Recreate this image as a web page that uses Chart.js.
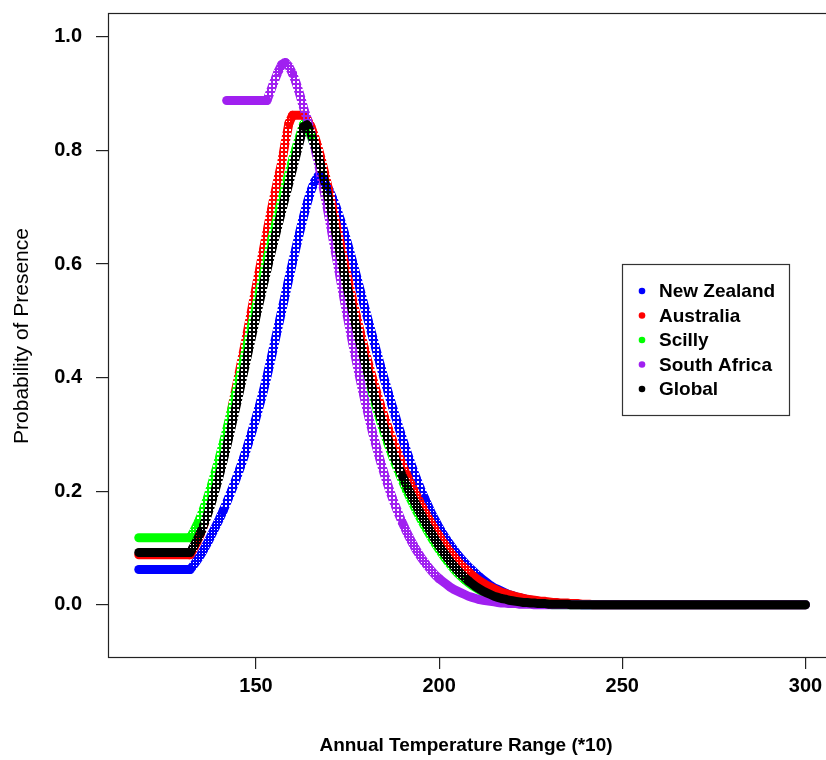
<!DOCTYPE html>
<html>
<head>
<meta charset="utf-8">
<title>Probability of Presence</title>
<script src="https://cdn.jsdelivr.net/npm/chart.js@4.4.1/dist/chart.umd.min.js"></script>
<style>
  html, body { margin: 0; padding: 0; background: #fff; overflow: hidden; }
  #wrap { position: relative; width: 840px; height: 760px; }
</style>
</head>
<body>
<div id="wrap"><canvas id="presenceChart" width="840" height="760"></canvas></div>
<script>
// annual temperature range (*10), one model step per unit
const temps = [
  118, 119, 120, 121, 122, 123, 124, 125, 126, 127,
  128, 129, 130, 131, 132, 133, 134, 135, 136, 137,
  138, 139, 140, 141, 142, 143, 144, 145, 146, 147,
  148, 149, 150, 151, 152, 153, 154, 155, 156, 157,
  158, 159, 160, 161, 162, 163, 164, 165, 166, 167,
  168, 169, 170, 171, 172, 173, 174, 175, 176, 177,
  178, 179, 180, 181, 182, 183, 184, 185, 186, 187,
  188, 189, 190, 191, 192, 193, 194, 195, 196, 197,
  198, 199, 200, 201, 202, 203, 204, 205, 206, 207,
  208, 209, 210, 211, 212, 213, 214, 215, 216, 217,
  218, 219, 220, 221, 222, 223, 224, 225, 226, 227,
  228, 229, 230, 231, 232, 233, 234, 235, 236, 237,
  238, 239, 240, 241, 242, 243, 244, 245, 246, 247,
  248, 249, 250, 251, 252, 253, 254, 255, 256, 257,
  258, 259, 260, 261, 262, 263, 264, 265, 266, 267,
  268, 269, 270, 271, 272, 273, 274, 275, 276, 277,
  278, 279, 280, 281, 282, 283, 284, 285, 286, 287,
  288, 289, 290, 291, 292, 293, 294, 295, 296, 297,
  298, 299, 300
];

const newZealand = [
  0.062, 0.062, 0.062, 0.062, 0.062, 0.062, 0.062, 0.062, 0.062, 0.062,
  0.062, 0.062, 0.062, 0.062, 0.062, 0.070, 0.079, 0.089, 0.100, 0.112,
  0.125, 0.138, 0.151, 0.165, 0.180, 0.196, 0.212, 0.229, 0.247, 0.266,
  0.286, 0.307, 0.329, 0.352, 0.376, 0.402, 0.430, 0.459, 0.488, 0.517,
  0.546, 0.575, 0.603, 0.631, 0.658, 0.684, 0.708, 0.729, 0.745, 0.755,
  0.752, 0.741, 0.730, 0.715, 0.698, 0.679, 0.658, 0.636, 0.613, 0.589,
  0.565, 0.540, 0.516, 0.492, 0.468, 0.444, 0.421, 0.398, 0.376, 0.354,
  0.333, 0.312, 0.292, 0.273, 0.254, 0.236, 0.219, 0.203, 0.188, 0.174,
  0.160, 0.148, 0.136, 0.125, 0.115, 0.106, 0.097, 0.089, 0.081, 0.074,
  0.067, 0.061, 0.055, 0.049, 0.044, 0.039, 0.034, 0.030, 0.027, 0.024,
  0.021, 0.018, 0.016, 0.014, 0.012, 0.011, 0.009, 0.008, 0.007, 0.006,
  0.005, 0.004, 0.004, 0.003, 0.003, 0.002, 0.002, 0.002, 0.001, 0.001,
  0.001, 0, 0, 0, 0, 0, 0, 0, 0, 0,
  0, 0, 0, 0, 0, 0, 0, 0, 0, 0,
  0, 0, 0, 0, 0, 0, 0, 0, 0, 0,
  0, 0, 0, 0, 0, 0, 0, 0, 0, 0,
  0, 0, 0, 0, 0, 0, 0, 0, 0, 0,
  0, 0, 0, 0, 0, 0, 0, 0, 0, 0,
  0, 0, 0
];

const australia = [
  0.088, 0.088, 0.088, 0.088, 0.088, 0.088, 0.088, 0.088, 0.088, 0.088,
  0.088, 0.088, 0.088, 0.088, 0.088, 0.099, 0.112, 0.127, 0.145, 0.166,
  0.190, 0.216, 0.244, 0.273, 0.303, 0.333, 0.364, 0.395, 0.427, 0.459,
  0.492, 0.525, 0.558, 0.591, 0.624, 0.657, 0.689, 0.720, 0.750, 0.778,
  0.815, 0.848, 0.862, 0.862, 0.862, 0.862, 0.855, 0.842, 0.825, 0.804,
  0.780, 0.754, 0.726, 0.697, 0.667, 0.637, 0.607, 0.577, 0.548, 0.520,
  0.493, 0.467, 0.442, 0.418, 0.395, 0.373, 0.352, 0.332, 0.313, 0.295,
  0.278, 0.262, 0.246, 0.231, 0.217, 0.203, 0.190, 0.177, 0.165, 0.153,
  0.142, 0.131, 0.121, 0.111, 0.102, 0.093, 0.085, 0.077, 0.070, 0.064,
  0.058, 0.052, 0.047, 0.042, 0.038, 0.034, 0.031, 0.028, 0.025, 0.022,
  0.020, 0.018, 0.016, 0.014, 0.013, 0.011, 0.010, 0.009, 0.008, 0.007,
  0.006, 0.006, 0.005, 0.004, 0.004, 0.003, 0.003, 0.003, 0.002, 0.002,
  0.002, 0.001, 0.001, 0.001, 0, 0, 0, 0, 0, 0,
  0, 0, 0, 0, 0, 0, 0, 0, 0, 0,
  0, 0, 0, 0, 0, 0, 0, 0, 0, 0,
  0, 0, 0, 0, 0, 0, 0, 0, 0, 0,
  0, 0, 0, 0, 0, 0, 0, 0, 0, 0,
  0, 0, 0, 0, 0, 0, 0, 0, 0, 0,
  0, 0, 0
];

const scilly = [
  0.118, 0.118, 0.118, 0.118, 0.118, 0.118, 0.118, 0.118, 0.118, 0.118,
  0.118, 0.118, 0.118, 0.118, 0.118, 0.129, 0.142, 0.157, 0.174, 0.193,
  0.214, 0.236, 0.259, 0.283, 0.308, 0.334, 0.360, 0.387, 0.414, 0.442,
  0.470, 0.498, 0.526, 0.554, 0.582, 0.609, 0.636, 0.662, 0.688, 0.713,
  0.737, 0.761, 0.784, 0.806, 0.827, 0.846, 0.840, 0.826, 0.808, 0.786,
  0.761, 0.733, 0.703, 0.672, 0.641, 0.609, 0.578, 0.548, 0.519, 0.491,
  0.464, 0.438, 0.413, 0.389, 0.366, 0.344, 0.323, 0.303, 0.284, 0.266,
  0.249, 0.233, 0.218, 0.203, 0.189, 0.176, 0.163, 0.151, 0.139, 0.128,
  0.117, 0.107, 0.097, 0.088, 0.079, 0.071, 0.063, 0.056, 0.050, 0.044,
  0.039, 0.034, 0.030, 0.026, 0.022, 0.019, 0.016, 0.014, 0.012, 0.010,
  0.008, 0.007, 0.006, 0.005, 0.004, 0.003, 0.003, 0.002, 0.002, 0.002,
  0.001, 0.001, 0.001, 0, 0, 0, 0, 0, 0, 0,
  0, 0, 0, 0, 0, 0, 0, 0, 0, 0,
  0, 0, 0, 0, 0, 0, 0, 0, 0, 0,
  0, 0, 0, 0, 0, 0, 0, 0, 0, 0,
  0, 0, 0, 0, 0, 0, 0, 0, 0, 0,
  0, 0, 0, 0, 0, 0, 0, 0, 0, 0,
  0, 0, 0, 0, 0, 0, 0, 0, 0, 0,
  0, 0, 0
];

// South Africa model only starts at 142
const southAfrica = [
  null, null, null, null, null, null, null, null, null, null,
  null, null, null, null, null, null, null, null, null, null,
  null, null, null, null, 0.888, 0.888, 0.888, 0.888, 0.888, 0.888,
  0.888, 0.888, 0.888, 0.888, 0.888, 0.888, 0.905, 0.922, 0.938, 0.951,
  0.955, 0.948, 0.935, 0.918, 0.898, 0.875, 0.855, 0.832, 0.806, 0.778,
  0.747, 0.714, 0.680, 0.645, 0.610, 0.575, 0.540, 0.506, 0.473, 0.441,
  0.410, 0.380, 0.352, 0.325, 0.299, 0.275, 0.252, 0.231, 0.211, 0.192,
  0.175, 0.159, 0.144, 0.130, 0.117, 0.105, 0.094, 0.084, 0.075, 0.067,
  0.059, 0.052, 0.046, 0.041, 0.036, 0.031, 0.027, 0.024, 0.021, 0.018,
  0.015, 0.013, 0.011, 0.009, 0.008, 0.007, 0.006, 0.005, 0.004, 0.003,
  0.003, 0.002, 0.002, 0.002, 0.001, 0.001, 0.001, 0.001, 0, 0,
  0, 0, 0, 0, 0, 0, 0, 0, 0, 0,
  0, 0, 0, 0, 0, 0, 0, 0, 0, 0,
  0, 0, 0, 0, 0, 0, 0, 0, 0, 0,
  0, 0, 0, 0, 0, 0, 0, 0, 0, 0,
  0, 0, 0, 0, 0, 0, 0, 0, 0, 0,
  0, 0, 0, 0, 0, 0, 0, 0, 0, 0,
  0, 0, 0, 0, 0, 0, 0, 0, 0, 0,
  0, 0, 0
];

const globalModel = [
  0.092, 0.092, 0.092, 0.092, 0.092, 0.092, 0.092, 0.092, 0.092, 0.092,
  0.092, 0.092, 0.092, 0.092, 0.092, 0.103, 0.115, 0.129, 0.145, 0.163,
  0.183, 0.205, 0.228, 0.253, 0.279, 0.306, 0.334, 0.362, 0.391, 0.420,
  0.449, 0.478, 0.507, 0.535, 0.563, 0.590, 0.617, 0.643, 0.668, 0.693,
  0.718, 0.743, 0.768, 0.793, 0.818, 0.842, 0.845, 0.830, 0.812, 0.790,
  0.765, 0.738, 0.709, 0.679, 0.648, 0.617, 0.586, 0.556, 0.527, 0.499,
  0.472, 0.446, 0.421, 0.397, 0.374, 0.352, 0.331, 0.311, 0.292, 0.274,
  0.257, 0.241, 0.226, 0.212, 0.198, 0.185, 0.172, 0.160, 0.148, 0.136,
  0.125, 0.114, 0.104, 0.094, 0.085, 0.076, 0.068, 0.061, 0.054, 0.048,
  0.042, 0.037, 0.032, 0.028, 0.024, 0.021, 0.018, 0.015, 0.013, 0.011,
  0.010, 0.008, 0.007, 0.006, 0.005, 0.004, 0.004, 0.003, 0.003, 0.002,
  0.002, 0.002, 0.001, 0.001, 0.001, 0.001, 0.001, 0.001, 0, 0,
  0, 0, 0, 0, 0, 0, 0, 0, 0, 0,
  0, 0, 0, 0, 0, 0, 0, 0, 0, 0,
  0, 0, 0, 0, 0, 0, 0, 0, 0, 0,
  0, 0, 0, 0, 0, 0, 0, 0, 0, 0,
  0, 0, 0, 0, 0, 0, 0, 0, 0, 0,
  0, 0, 0, 0, 0, 0, 0, 0, 0, 0,
  0, 0, 0
];

const seriesNames = ["New Zealand", "Australia", "Scilly", "South Africa", "Global"];
const seriesColors = [[0, 0, 255], [255, 0, 0], [0, 255, 0], [160, 32, 240], [0, 0, 0]];
const xTicks = [150, 200, 250, 300];
const yTicks = [0, 0.2, 0.4, 0.6, 0.8, 1.0];

const FONT = "'Liberation Sans', Arial, sans-serif";

function toPoints(values) {
    return temps
        .map((t, i) => ({ x: t, y: values[i] }))
        .filter(p => p.y !== null);
}

function rgba(c, a) {
    return `rgba(${c[0]},${c[1]},${c[2]},${a})`;
}

// small tile with see-through holes, so steep runs of open circles read as a mesh
function meshPattern(c, size, hole) {
    const tile = document.createElement("canvas");
    tile.width = size;
    tile.height = size;
    const g = tile.getContext("2d");
    g.fillStyle = rgba(c, 1);
    g.fillRect(0, 0, size, size);
    g.clearRect(1, 1, hole, hole);
    return g.createPattern(tile, "repeat");
}

function styleBySlope(c) {
    const solid = rgba(c, 1);
    const medium = meshPattern(c, 3, 1);
    const open = meshPattern(c, 4, 2);
    return ctx => {
        const len = Math.hypot(ctx.p1.x - ctx.p0.x, ctx.p1.y - ctx.p0.y);
        if (len < 5) return solid;
        if (len < 9) return medium;
        return open;
    };
}

function makeDataset(name, values, color, order) {
    return {
        label: name,
        data: toPoints(values),
        borderColor: rgba(color, 1),
        segment: { borderColor: styleBySlope(color) },
        borderWidth: 9,
        borderCapStyle: "round",
        borderJoinStyle: "round",
        tension: 0,
        pointRadius: 0,
        pointHoverRadius: 0,
        order: order
    };
}

// box around the plot, axis titles and the legend
const framePlugin = {
    id: "frame",
    afterDraw(chart) {
        const { ctx, chartArea } = chart;
        ctx.save();
        ctx.strokeStyle = "#222";
        ctx.lineWidth = 1.2;
        ctx.strokeRect(chartArea.left + 0.5, chartArea.top + 0.5,
            chartArea.right - chartArea.left, chartArea.bottom - chartArea.top);

        ctx.fillStyle = "#000";
        ctx.textAlign = "center";
        ctx.textBaseline = "middle";
        ctx.font = "bold 19px " + FONT;
        ctx.fillText("Annual Temperature Range (*10)", 466, 746);

        ctx.save();
        ctx.translate(22, 336);
        ctx.rotate(-Math.PI / 2);
        ctx.font = "21px " + FONT;
        ctx.fillText("Probability of Presence", 0, 0);
        ctx.restore();

        // legend
        const bx = 622, by = 264, bw = 167, bh = 151;
        ctx.fillStyle = "#fff";
        ctx.fillRect(bx, by, bw, bh);
        ctx.strokeStyle = "#333";
        ctx.lineWidth = 1.2;
        ctx.strokeRect(bx + 0.5, by + 0.5, bw, bh);
        ctx.textAlign = "left";
        ctx.font = "bold 19px " + FONT;
        seriesNames.forEach((name, i) => {
            const y = by + 27 + i * 24.5;
            ctx.beginPath();
            ctx.arc(bx + 20, y, 3.3, 0, Math.PI * 2);
            ctx.fillStyle = rgba(seriesColors[i], 1);
            ctx.fill();
            ctx.fillStyle = "#000";
            ctx.fillText(name, bx + 37, y + 1);
        });
        ctx.restore();
    }
};

const datasets = [
    makeDataset(seriesNames[0], newZealand, seriesColors[0], 5),
    makeDataset(seriesNames[1], australia, seriesColors[1], 4),
    makeDataset(seriesNames[2], scilly, seriesColors[2], 3),
    makeDataset(seriesNames[3], southAfrica, seriesColors[3], 2),
    makeDataset(seriesNames[4], globalModel, seriesColors[4], 1)
];

const tickFont = { family: FONT, size: 20, weight: "bold" };

new Chart(document.getElementById("presenceChart"), {
    type: "line",
    data: { datasets: datasets },
    options: {
        responsive: false,
        animation: false,
        devicePixelRatio: 1,
        layout: { padding: { top: 13, right: 8, left: 0, bottom: 0 } },
        plugins: {
            legend: { display: false },
            tooltip: { enabled: false }
        },
        scales: {
            x: {
                type: "linear",
                min: 109.6,
                max: 307.25,
                border: { display: false },
                grid: { drawOnChartArea: false, drawTicks: true, tickLength: 12, color: "#222", lineWidth: 1.2 },
                ticks: { font: tickFont, color: "#000", padding: 5, maxRotation: 0, autoSkip: false },
                afterBuildTicks: scale => { scale.ticks = xTicks.map(v => ({ value: v })); },
                afterFit: scale => {
                    scale.height = 103;
                    scale.paddingLeft = 0;
                    scale.paddingRight = 0;
                }
            },
            y: {
                type: "linear",
                min: -0.092,
                max: 1.042,
                border: { display: false },
                grid: { drawOnChartArea: false, drawTicks: true, tickLength: 12, color: "#222", lineWidth: 1.2 },
                ticks: {
                    font: tickFont,
                    color: "#000",
                    padding: 14,
                    autoSkip: false,
                    callback: v => Number(v).toFixed(1)
                },
                afterBuildTicks: scale => { scale.ticks = yTicks.map(v => ({ value: v })); },
                afterFit: scale => {
                    scale.width = 108;
                    scale.paddingTop = 0;
                    scale.paddingBottom = 0;
                }
            }
        }
    },
    plugins: [framePlugin]
});
</script>
</body>
</html>
